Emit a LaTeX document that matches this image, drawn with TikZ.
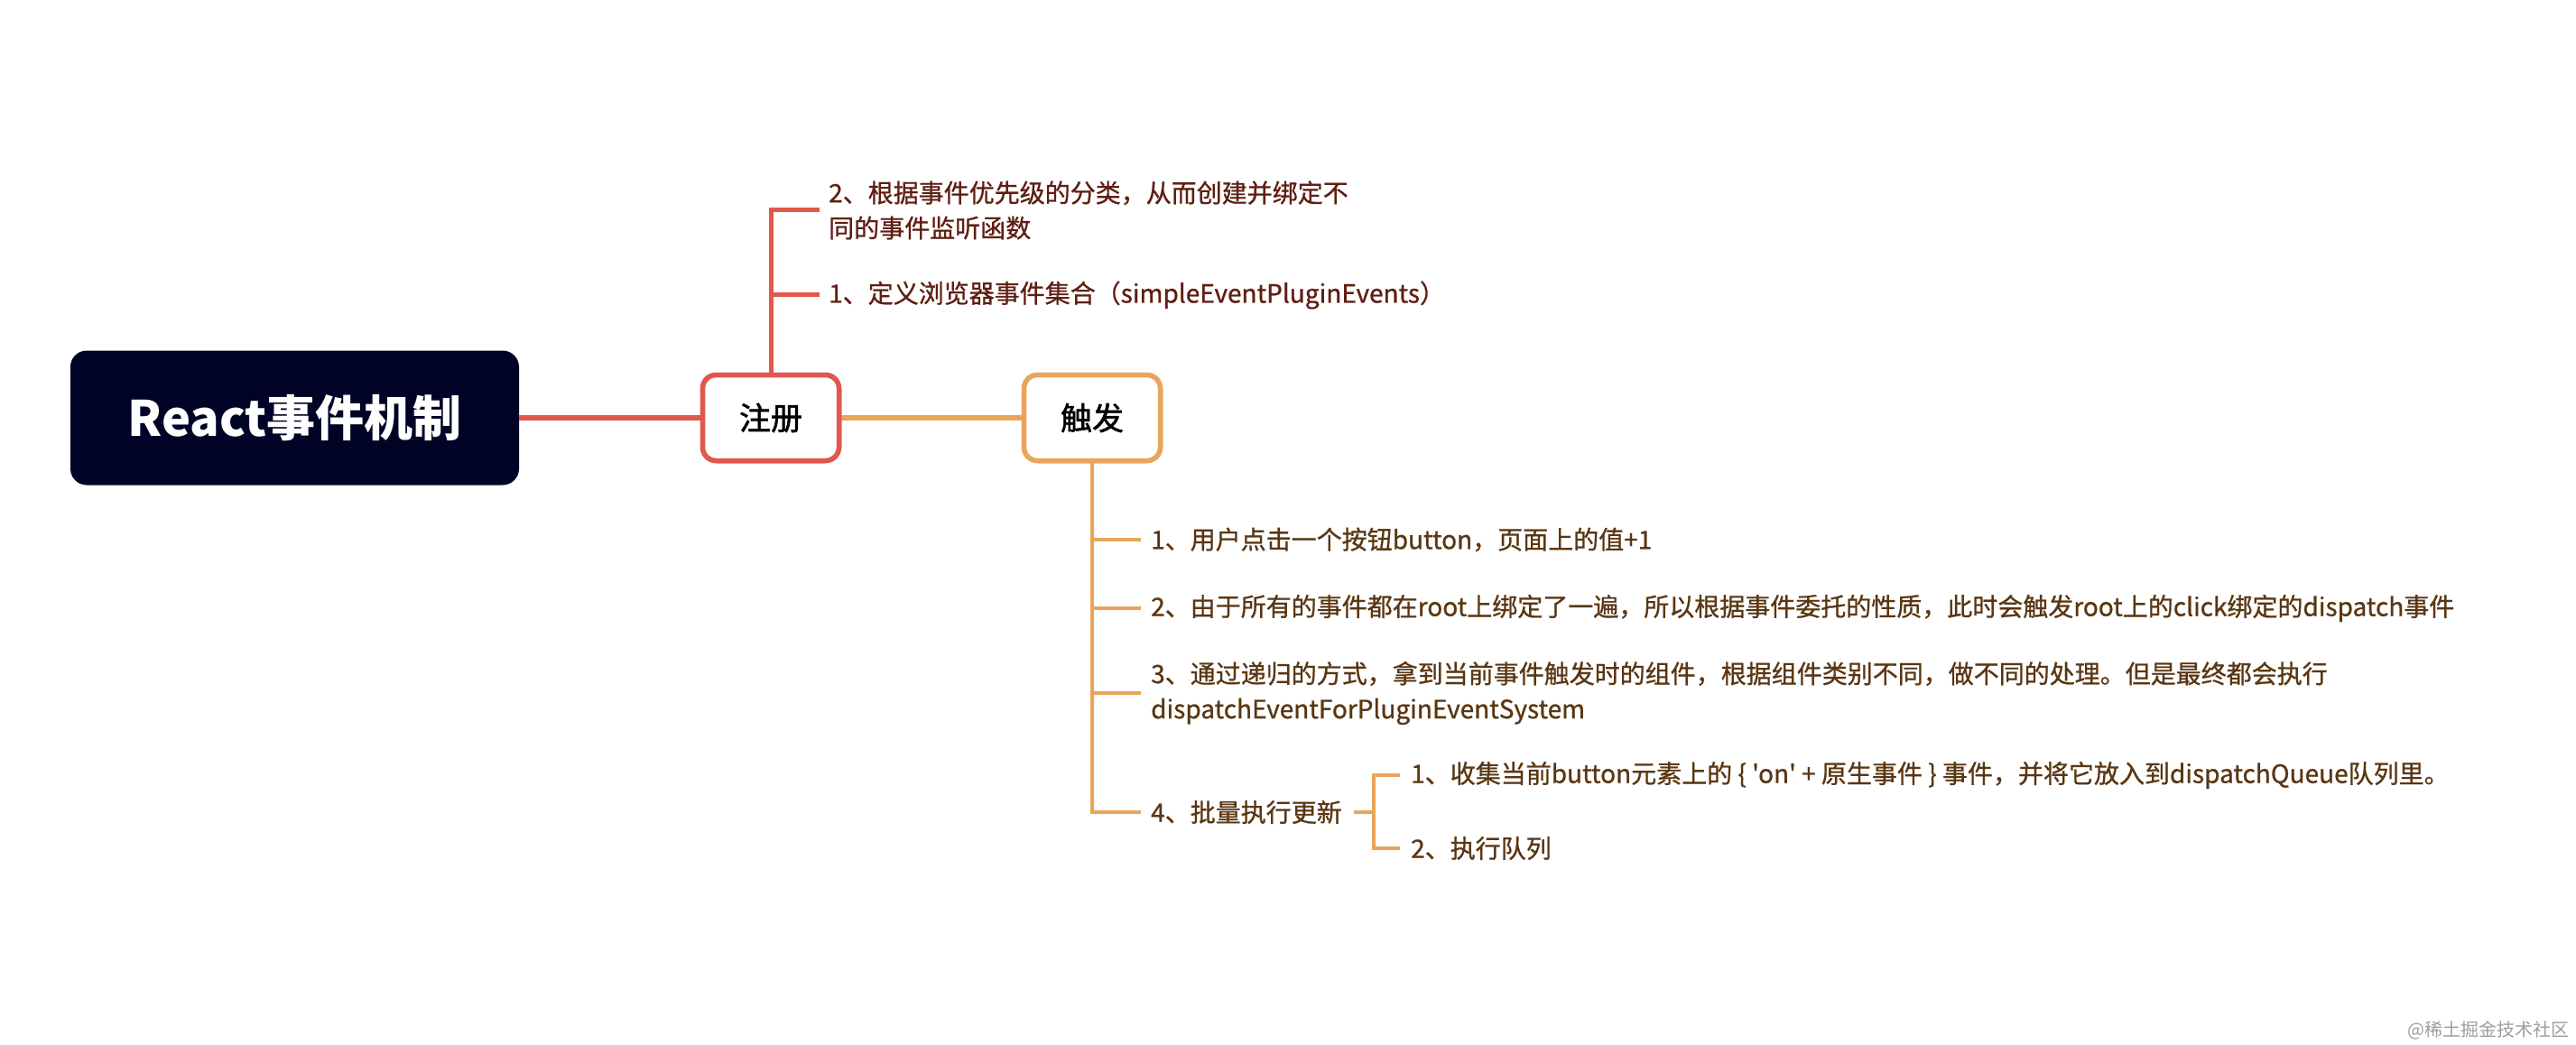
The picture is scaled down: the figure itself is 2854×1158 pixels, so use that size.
\documentclass[tikz,border=0pt]{standalone}
\usepackage{fontspec}
\newfontfamily\cjk{Noto Sans CJK SC}
\newfontfamily\cjkmed{Noto Sans CJK SC}[FakeBold=0.8]
\newfontfamily\cjkbox{Noto Sans CJK SC}[FakeBold=1.6]
\definecolor{rootc}{HTML}{010326}
\definecolor{redc}{HTML}{E2574C}
\definecolor{orc}{HTML}{E9A55C}
\definecolor{redtext}{HTML}{5E1F12}
\definecolor{ortext}{HTML}{5A3612}
\begin{document}
\begin{tikzpicture}[x=1pt,y=-1pt,
  rootbox/.style={fill=rootc, rounded corners=18pt, minimum width=497pt, minimum height=149pt,
    inner sep=0pt, text=white, font=\cjk\bfseries\fontsize{54}{60}\selectfont},
  subbox/.style={fill=white, line width=5.5pt, rounded corners=15pt, minimum width=151pt,
    minimum height=95pt, inner sep=0pt, text=black, font=\cjkbox\fontsize{35}{40}\selectfont},
  leaf/.style={anchor=west, inner sep=0pt, align=left, font=\cjkmed\fontsize{28}{39}\selectfont},
  redleaf/.style={leaf, text=redtext},
  orleaf/.style={leaf, text=ortext},
  redmain/.style={draw=redc, line width=5.5pt},
  ormain/.style={draw=orc, line width=5.5pt},
  redbranch/.style={draw=redc, line width=5pt},
  orbranch/.style={draw=orc, line width=4.5pt},
]
\useasboundingbox (0,0) rectangle (2854,1158);
\fill[white] (0,0) rectangle (2854,1158);

\node[rootbox] (root) at (326.5,463) {React事件机制};
\node[subbox, draw=redc] (reg) at (854,463) {注册};
\node[subbox, draw=orc] (trig) at (1210,463) {触发};

\node[redleaf] (r2) at (918,233) {2、根据事件优先级的分类，从而创建并绑定不\\同的事件监听函数};
\node[redleaf] (r1) at (918,327) {1、定义浏览器事件集合（simpleEventPluginEvents）};

\node[orleaf] (t1) at (1275,598) {1、用户点击一个按钮button，页面上的值+1};
\node[orleaf] (t2) at (1275,674) {2、由于所有的事件都在root上绑定了一遍，所以根据事件委托的性质，此时会触发root上的click绑定的dispatch事件};
\node[orleaf] (t3) at (1275,768) {3、通过递归的方式，拿到当前事件触发时的组件，根据组件类别不同，做不同的处理。但是最终都会执行\\dispatchEventForPluginEventSystem};
\node[orleaf] (t4) at (1275,900) {4、批量执行更新};
\node[orleaf] (s1) at (1563,859) {1、收集当前button元素上的 \{ 'on' + 原生事件 \} 事件，并将它放入到dispatchQueue队列里。};
\node[orleaf] (s2) at (1563,940) {2、执行队列};

\node[anchor=south east, inner sep=0pt, text=black!38, font=\cjk\fontsize{20}{23}\selectfont] (wm) at (2847,1152) {@稀土掘金技术社区};

\draw[redmain] (root.east) -- (reg.west);
\draw[ormain] (reg.east) -- (trig.west);

\draw[redbranch] (reg.north) |- ([xshift=-10pt]r2.west);
\draw[redbranch] (reg.north |- r1.west) -- ([xshift=-10pt]r1.west);

\draw[orbranch] (trig.south) |- ([xshift=-11pt]t4.west);
\draw[orbranch] (trig.south |- t1.west) -- ([xshift=-11pt]t1.west);
\draw[orbranch] (trig.south |- t2.west) -- ([xshift=-11pt]t2.west);
\draw[orbranch] (trig.south |- t3.west) -- ([xshift=-11pt]t3.west);

\coordinate (sj) at (1522,900);
\draw[orbranch] ([xshift=13pt]t4.east) -- (sj);
\draw[orbranch] ([xshift=-12pt]s1.west) -| (sj) |- ([xshift=-12pt]s2.west);

% boxes again on top of the connector ends
\node[subbox, draw=redc] at (reg) {注册};
\node[subbox, draw=orc] at (trig) {触发};
\end{tikzpicture}
\end{document}
